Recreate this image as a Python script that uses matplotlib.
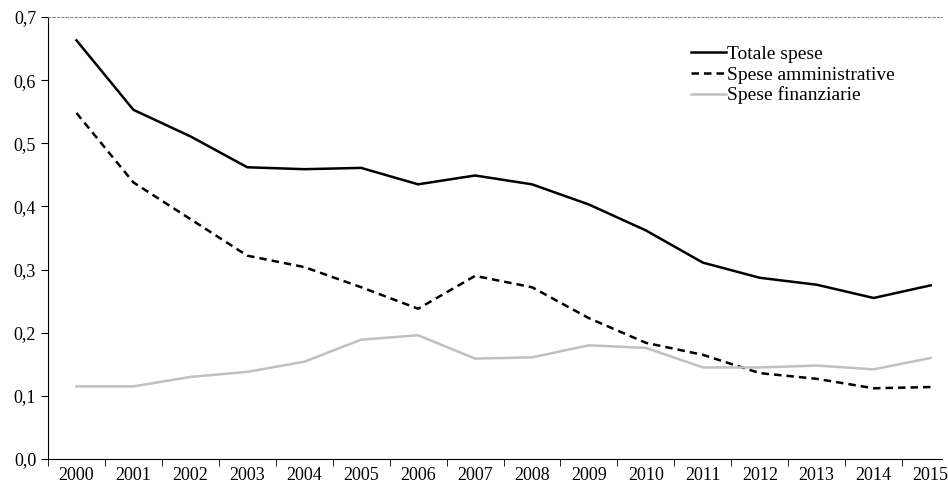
import matplotlib
matplotlib.use('Agg')
import matplotlib.pyplot as plt
from matplotlib.ticker import FixedLocator, FuncFormatter
import numpy as np

years = [str(y) for y in range(2000, 2016)]
totale = [0.663, 0.553, 0.511, 0.462, 0.459, 0.461, 0.435, 0.449, 0.435, 0.403, 0.362, 0.311, 0.287, 0.276, 0.255, 0.275]
amministrative = [0.548, 0.438, 0.380, 0.322, 0.304, 0.272, 0.238, 0.290, 0.272, 0.223, 0.184, 0.165, 0.136, 0.127, 0.112, 0.114]
finanziarie = [0.115, 0.115, 0.130, 0.138, 0.154, 0.189, 0.196, 0.159, 0.161, 0.180, 0.176, 0.145, 0.145, 0.148, 0.142, 0.160]

plt.rcParams['font.family'] = ['Liberation Serif', 'DejaVu Serif']

fig = plt.figure(figsize=(9.48, 4.83), dpi=100)
ax = fig.add_axes([48/948, 24/483, (942-48)/948, (459-17)/483])
x = np.arange(len(years))
ax.plot(x, totale, color='black', lw=1.8, label='Totale spese')
ax.plot(x, amministrative, color='black', lw=1.8, ls=(0, (3, 2)), label='Spese amministrative')
ax.plot(x, finanziarie, color='#c0c0c0', lw=1.8, label='Spese finanziarie')

ax.set_xlim(-0.5, 15.2)
ax.set_ylim(0, 0.7)
ax.set_yticks(np.arange(0, 0.71, 0.1))
ax.yaxis.set_major_formatter(FuncFormatter(lambda v, p: f'{v:.1f}'.replace('.', ',')))
ax.set_xticks(x)
ax.set_xticklabels(years)
ax.xaxis.set_minor_locator(FixedLocator(x - 0.5))
ax.tick_params(axis='x', which='major', length=0, labelsize=13, pad=6)
ax.tick_params(axis='x', which='minor', length=5, direction='out')
ax.tick_params(axis='y', length=5, labelsize=13)

ax.spines['right'].set_visible(False)
ax.spines['top'].set_linestyle((0, (2, 2)))
ax.spines['top'].set_color('#888888')
ax.spines['top'].set_linewidth(0.8)
ax.spines['left'].set_linestyle((0, (2, 1)))
ax.spines['bottom'].set_linestyle((0, (2, 1)))

ax.legend(loc='upper left', bbox_to_anchor=(0.70, 0.975), frameon=False, fontsize=14,
          handlelength=1.8, handletextpad=0.05, labelspacing=0.15)

fig.savefig('out.png', dpi=100)
